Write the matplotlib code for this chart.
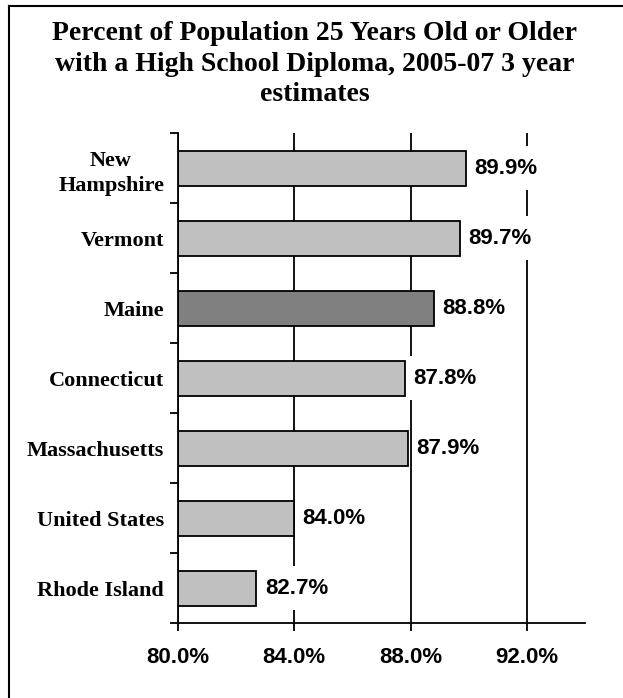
import matplotlib
matplotlib.use('Agg')
from matplotlib import pyplot as plt
from matplotlib.lines import Line2D
import numpy as np

# data, top to bottom as in the chart
states = ['New\nHampshire', 'Vermont', 'Maine', 'Connecticut',
          'Massachusetts', 'United States', 'Rhode Island']
values = [89.9, 89.7, 88.8, 87.8, 87.9, 84.0, 82.7]
highlight = 'Maine'
xticks = [80, 84, 88, 92]
title = ('Percent of Population 25 Years Old or Older\n'
         'with a High School Diploma, 2005-07 3 year\nestimates')

serif = 'Liberation Serif'
sans = 'Liberation Sans'

fig = plt.figure(figsize=(6.23, 6.98), dpi=100)
W, H = 623, 698
ax = fig.add_axes([178 / W, 1 - 623 / H, (585 - 178) / W, (623 - 133) / H])

y = np.arange(len(states))
colors = ['#808080' if s == highlight else '#C0C0C0' for s in states]

# white boxes behind the value labels (they break the gridlines)
ax.barh(y, 2.4, left=np.array(values) + 0.14, height=0.64,
        color='white', edgecolor='none', zorder=1)
ax.barh(y, np.array(values) - 80, left=80, height=0.5, color=colors,
        edgecolor='black', linewidth=1.3, zorder=2)

for yi, v in zip(y, values):
    ax.annotate('%.1f%%' % v, xy=(v, yi), xytext=(6, 0),
                textcoords='offset points', ha='left', va='center',
                fontsize=16, fontweight='bold', family=sans, zorder=3)

ax.set_xlim(80, 94)
ax.set_ylim(len(states) - 0.5, -0.5)

ax.set_xticks(xticks)
ax.set_xticklabels(['%.1f%%' % t for t in xticks], fontsize=16,
                   fontweight='bold', family=sans)
ax.tick_params(axis='x', direction='out', length=6, width=1.3, pad=11)

# category boundaries as major ticks, names on minor ticks
ax.set_yticks(np.arange(-0.5, len(states), 1.0))
ax.set_yticklabels([])
ax.set_yticks(y, minor=True)
ax.set_yticklabels(states, minor=True, fontsize=16, fontweight='bold',
                   family=serif, multialignment='center', linespacing=1.35)
ax.tick_params(axis='y', which='major', direction='out', length=6, width=1.3)
ax.tick_params(axis='y', which='minor', length=0, pad=10)

ax.set_axisbelow(True)
ax.xaxis.grid(True, color='black', linewidth=1.3)
ax.spines['top'].set_visible(False)
ax.spines['right'].set_visible(False)
ax.spines['left'].set_linewidth(1.3)
ax.spines['bottom'].set_linewidth(1.3)

fig.text(315 / W, 1 - 21 / H, title, ha='center', va='top', fontsize=20,
         fontweight='bold', family=serif, linespacing=1.3)

# chart frame: only top and left edges show
fig.add_artist(Line2D([9 / W, 1], [1 - 6 / H, 1 - 6 / H],
                      color='black', linewidth=1.5))
fig.add_artist(Line2D([9 / W, 9 / W], [0, 1 - 6 / H],
                      color='black', linewidth=1.5))

fig.savefig('out.png', dpi=100)
